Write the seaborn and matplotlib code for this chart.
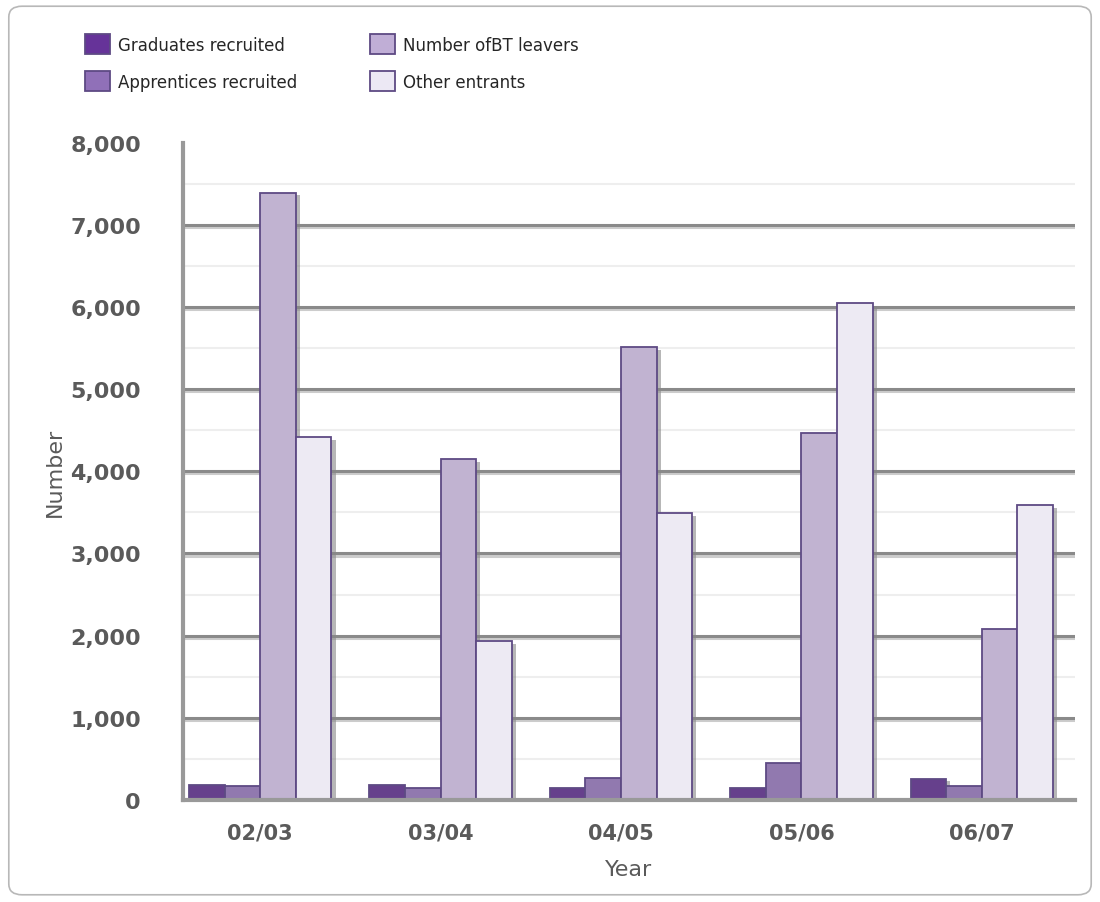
import matplotlib
matplotlib.use("Agg")
import matplotlib.pyplot as plt
import matplotlib.patheffects as pe
from matplotlib.patches import FancyBboxPatch, Patch
from matplotlib.ticker import MultipleLocator, FuncFormatter
import seaborn as sns
import pandas as pd

years = ["02/03", "03/04", "04/05", "05/06", "06/07"]
series = ["Graduates recruited", "Apprentices recruited", "Number ofBT leavers", "Other entrants"]
graduates = [185, 185, 140, 140, 260]
apprentices = [175, 140, 265, 455, 165]
leavers = [7390, 4150, 5515, 4470, 2080]
other_entrants = [4420, 1935, 3495, 6050, 3590]
colors = ["#663399", "#9070b8", "#c0aed6", "#ece8f4"]

df = pd.DataFrame({
    "Year": years * 4,
    "Series": [s for s in series for _ in years],
    "Number": graduates + apprentices + leavers + other_entrants,
})

sns.set_theme(style="white")
plt.rcParams["font.family"] = ["DejaVu Sans"]

fig = plt.figure(figsize=(11, 9.03), dpi=100)
ax = fig.add_axes([0.166, 0.113, 0.811, 0.728])

# rounded outer frame
fig.patches.append(FancyBboxPatch((0.008, 0.008), 0.984, 0.984,
                                  boxstyle="round,pad=0,rounding_size=0.012",
                                  transform=fig.transFigure, facecolor="none",
                                  edgecolor="#b8b8b8", linewidth=1.2, zorder=0))

sns.barplot(data=df, x="Year", y="Number", hue="Series", hue_order=series,
            palette=colors, width=0.79, edgecolor="#5e4a84", linewidth=1.3,
            legend=False, ax=ax, zorder=3, errorbar=None)

shadow = [pe.SimplePatchShadow(offset=(3, -2), shadow_rgbFace="#888888", alpha=0.6), pe.Normal()]
for p in ax.patches:
    p.set_path_effects(shadow)

ax.set_ylim(0, 8000)
ax.set_xlim(-0.43, 4.515)
ax.yaxis.set_major_locator(MultipleLocator(1000))
ax.yaxis.set_minor_locator(MultipleLocator(500))
ax.yaxis.set_major_formatter(FuncFormatter(lambda v, _: f"{int(v):,}"))
line_shadow = [pe.SimpleLineShadow(offset=(1, -1.5), shadow_color="#aaaaaa", alpha=0.6), pe.Normal()]
for v in range(1000, 8000, 1000):
    ax.axhline(v, color="#8a8a8a", lw=2.2, zorder=1, path_effects=line_shadow)
for v in range(500, 8000, 1000):
    ax.axhline(v, color="#eeeeee", lw=1.5, zorder=0.5)

for side in ["top", "right"]:
    ax.spines[side].set_visible(False)
for side in ["left", "bottom"]:
    ax.spines[side].set_color("#999999")
    ax.spines[side].set_linewidth(3)
    ax.spines[side].set_zorder(4)

ax.tick_params(axis="y", which="both", length=0, pad=30, labelsize=16, labelcolor="#5a5a5a")
ax.tick_params(axis="x", length=0, pad=16, labelsize=15, labelcolor="#5a5a5a")
for lbl in ax.get_yticklabels() + ax.get_xticklabels():
    lbl.set_fontweight("bold")

ax.set_xlabel("Year", fontsize=16, color="#5a5a5a", labelpad=12)
ax.set_ylabel("Number", fontsize=16, color="#5a5a5a", labelpad=4)

handles = [Patch(facecolor=c, edgecolor="#5e4a84", linewidth=1.3) for c in colors]
fig.legend(handles, series, loc="upper left", bbox_to_anchor=(0.064, 0.978), ncol=2,
           frameon=False, fontsize=12, handlelength=1.5, handleheight=1.5,
           columnspacing=4.4, labelspacing=1.0, handletextpad=0.45)

fig.savefig("out.png", dpi=100, facecolor="white")
